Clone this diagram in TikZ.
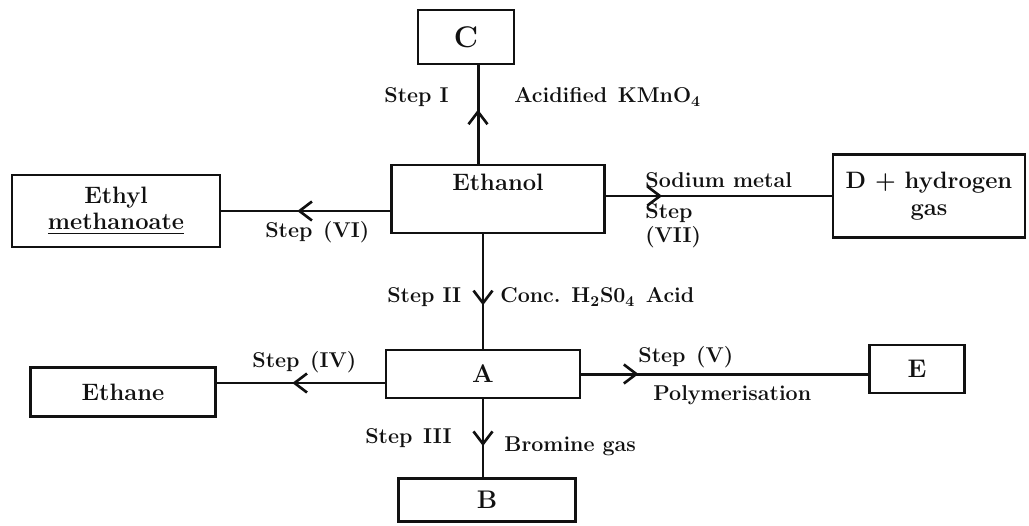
\documentclass[tikz,border=0pt]{standalone}
\usepackage{amsmath}
\usepackage{tikz}
\usetikzlibrary{arrows.meta,positioning,calc,decorations.markings}
\definecolor{chemInk}{HTML}{111111}
\tikzset{
    % Box and label styles
    chembox/.style={rectangle, draw=chemInk, line width=1.2pt, inner sep=2pt, align=center, text=chemInk, font=\fontsize{13.5}{15}\selectfont\bfseries},
    letterbox/.style={chembox, font=\fontsize{14.5}{16}\selectfont\bfseries},
    steplabel/.style={font=\fontsize{12.2}{14}\selectfont\bfseries, text=chemInk, inner sep=0pt, anchor=west},
    % Reaction lines with the arrow head part way along
    reaction/.style={draw=chemInk, line width=1.7pt, postaction={decorate},
        decoration={markings, mark=at position #1 with {\arrow{Straight Barb[length=2.5mm, width=3.8mm, line width=1.5pt]}}}}
}

\begin{document}
\begin{tikzpicture}[x=0.02cm, y=-0.02cm]
    \useasboundingbox (0,0) rectangle (1029,525);

    % Nodes
    \node[letterbox, minimum width=1.92cm, minimum height=1.08cm, font=\fontsize{17}{19}\selectfont\bfseries] (c) at (466,37) {C};
    \node[chembox, minimum width=4.26cm, minimum height=1.36cm, text depth=0.66cm] (ethanol) at (498,199) {Ethanol};
    \node[chembox, minimum width=4.16cm, minimum height=1.44cm] (ethyl) at (116,211) {Ethyl\\\underline{methanoate}};
    \node[chembox, minimum width=3.84cm, minimum height=1.66cm] (dgas) at (929,196) {D + hydrogen\\gas};
    \node[letterbox, minimum width=3.88cm, minimum height=0.96cm] (a) at (483,374) {A};
    \node[chembox, minimum width=3.70cm, minimum height=0.98cm] (ethane) at (123,392) {Ethane};
    \node[letterbox, minimum width=1.90cm, minimum height=0.96cm] (e) at (917,369) {E};
    \node[letterbox, minimum width=3.54cm, minimum height=0.86cm] (b) at (487,500) {B};

    % Arrows
    \coordinate (up) at ([xshift=-0.4cm]ethanol.north);
    \coordinate (aw) at ([yshift=-0.18cm]a.west);
    \draw[reaction=0.55] (up) -- (up |- c.south);
    \draw[reaction=0.55] (ethanol.west |- ethyl.east) -- (ethyl.east);
    \draw[reaction=0.25] (ethanol.east |- dgas.west) -- (dgas.west);
    \draw[reaction=0.62] (ethanol.south -| a.north) -- (a.north);
    \draw[reaction=0.55] (aw) -- (aw -| ethane.east);
    \draw[reaction=0.20] (a.east) -- (a.east -| e.west);
    \draw[reaction=0.60] (a.south) -- (a.south |- b.north);

    % Labels
    \node[steplabel] (s1) at (384,97) {Step I};
    \node[steplabel] (kmno) at (514,97) {Acidified\enspace KMnO\textsubscript{4}};
    \node[steplabel] (s6) at (265,232) {Step\enspace(VI)};
    \node[steplabel] (na) at (645,180) {Sodium metal};
    \node[steplabel, anchor=north west, align=left] (s7) at (645,203) {Step\\(VII)};
    \node[steplabel] (s2) at (387,297) {Step II};
    \node[steplabel] (acid) at (500,297) {Conc. H\textsubscript{2}S0\textsubscript{4}\enspace Acid};
    \node[steplabel] (s4) at (252,362) {Step\enspace(IV)};
    \node[steplabel] (s3) at (365,438) {Step\enspace III};
    \node[steplabel] (br) at (504,446) {Bromine gas};
    \node[steplabel] (s5) at (638,357) {Step\enspace(V)};
    \node[steplabel] (poly) at (653,395) {Polymerisation};

\end{tikzpicture}
\end{document}
